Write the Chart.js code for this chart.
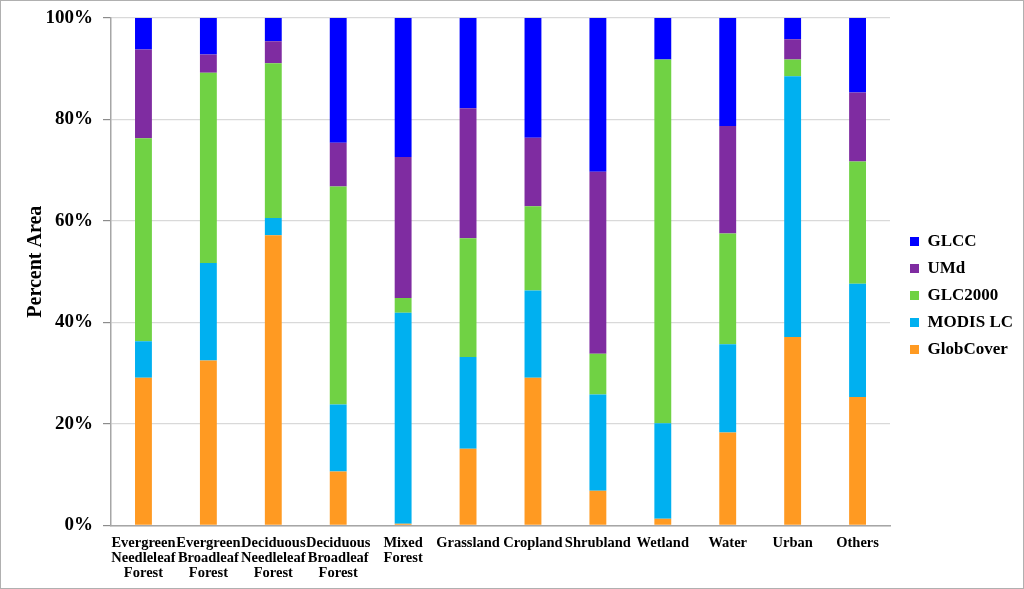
<!DOCTYPE html>
<html>
<head>
<meta charset="utf-8">
<script src="https://cdn.jsdelivr.net/npm/chart.js@4"></script>
<style>
  html, body { margin: 0; padding: 0; background: #fff; }
  #wrap {
    width: 1024px;
    height: 589px;
    box-sizing: border-box;
    border: 1px solid #b0b0b0;
    background: #fff;
  }
</style>
</head>
<body>
<div id="wrap"><canvas id="chart"></canvas></div>
<script>
const categories = [
  ["Evergreen", "Needleleaf", "Forest"],
  ["Evergreen", "Broadleaf", "Forest"],
  ["Deciduous", "Needleleaf", "Forest"],
  ["Deciduous", "Broadleaf", "Forest"],
  ["Mixed", "Forest"],
  "Grassland",
  "Cropland",
  "Shrubland",
  "Wetland",
  "Water",
  "Urban",
  "Others",
];

// percent of area, bottom of the stack first
const globCover = [29.1, 32.5, 57.2, 10.6, 0.3, 15.1, 29.1, 6.8, 1.3, 18.3, 37.1, 25.3];
const modisLC = [7.2, 19.2, 3.4, 13.2, 41.6, 18.1, 17.2, 19.0, 18.8, 17.4, 51.4, 22.3];
const glc2000 = [40.0, 37.5, 30.5, 43.0, 2.9, 23.4, 16.6, 8.0, 71.7, 21.8, 3.3, 24.1];
const umd = [17.5, 3.6, 4.3, 8.6, 27.8, 25.6, 13.5, 35.9, 0, 21.2, 4.0, 13.6];
const glcc = [6.2, 7.2, 4.6, 24.6, 27.4, 17.8, 23.6, 30.3, 8.2, 21.3, 4.2, 14.7];

const yTicks = [0, 20, 40, 60, 80, 100];

const serif = '"Liberation Serif", "Times New Roman", serif';

// nudge the legend a little right and up, like the original
const legendShift = {
  id: "legendShift",
  afterLayout(chart) {
    const lg = chart.legend;
    if (!lg) return;
    lg.left += 10;
    lg.right += 10;
    lg.top -= 9;
    lg.bottom -= 9;
  },
};

document.addEventListener("DOMContentLoaded", () => {
  const ctx = document.getElementById("chart");
  new Chart(ctx, {
    type: "bar",
    data: {
      labels: categories,
      datasets: [
        { label: "GlobCover", data: globCover, backgroundColor: "#ff9a22" },
        { label: "MODIS LC", data: modisLC, backgroundColor: "#00b0f0" },
        { label: "GLC2000", data: glc2000, backgroundColor: "#70d244" },
        { label: "UMd", data: umd, backgroundColor: "#7f2ca1" },
        { label: "GLCC", data: glcc, backgroundColor: "#0000ff" },
      ],
    },
    plugins: [legendShift],
    options: {
      responsive: true,
      maintainAspectRatio: false,
      animation: false,
      layout: { padding: { top: 17, left: 0, right: 10, bottom: -3 } },
      datasets: {
        bar: { categoryPercentage: 1, barPercentage: 0.26 },
      },
      plugins: {
        tooltip: { enabled: false },
        legend: {
          position: "right",
          reverse: true,
          labels: {
            boxWidth: 9,
            boxHeight: 9,
            padding: 10,
            color: "#000",
            font: { family: serif, size: 17, weight: "bold" },
          },
        },
      },
      scales: {
        x: {
          stacked: true,
          grid: { display: false, drawTicks: false },
          border: { color: "#a6a6a6", width: 1.5 },
          ticks: {
            autoSkip: false,
            maxRotation: 0,
            minRotation: 0,
            padding: 10,
            color: "#000",
            font: { family: serif, size: 14.5, weight: "bold", lineHeight: 1.05 },
          },
        },
        y: {
          stacked: true,
          min: 0,
          max: 100,
          afterBuildTicks: (axis) => {
            axis.ticks = yTicks.map((v) => ({ value: v }));
          },
          afterFit: (axis) => {
            axis.width = 110;
          },
          grid: { color: "#d9d9d9", tickColor: "#8c8c8c", tickLength: 8, lineWidth: 1.2 },
          border: { color: "#a6a6a6", width: 1.5 },
          title: {
            display: true,
            // leading spaces lift the centred title a bit, as in the original
            text: "    Percent Area",
            color: "#000",
            padding: { top: 23, bottom: 0 },
            font: { family: serif, size: 20, weight: "bold" },
          },
          ticks: {
            padding: 10,
            color: "#000",
            font: { family: serif, size: 19, weight: "bold", lineHeight: 0.7 },
            callback: (value) => value + "%",
          },
        },
      },
    },
  });
});
</script>
</body>
</html>
